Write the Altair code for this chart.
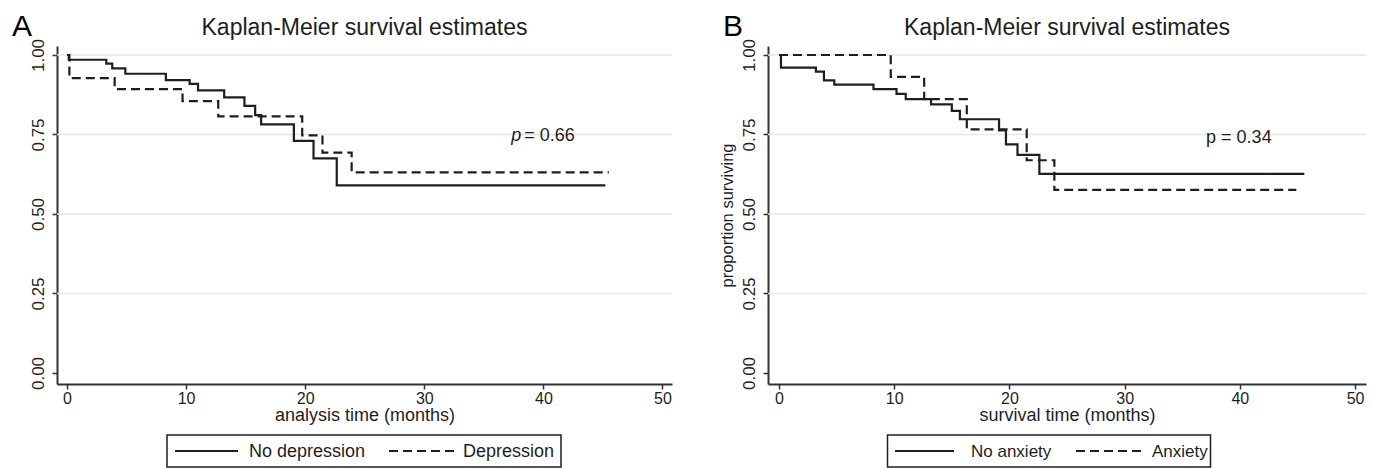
import altair as alt
import pandas as pd

FONT = "Liberation Sans"
INK = "#1e1e1e"

# ---------------- Panel A: depression ----------------
a_nodep_t = [0, 0.15, 3.3, 3.8, 4.9, 8.3, 10.3, 11.0, 13.2, 14.9, 15.8, 16.3, 19.05, 20.7, 22.65, 45.2]
a_nodep_s = [1.0, 0.985, 0.973, 0.958, 0.941, 0.921, 0.909, 0.889, 0.867, 0.840, 0.811, 0.782, 0.730, 0.675, 0.590, 0.590]
a_dep_t = [0, 0.2, 4.0, 9.7, 12.7, 19.75, 21.45, 23.9, 45.5]
a_dep_s = [1.0, 0.927, 0.893, 0.855, 0.807, 0.747, 0.693, 0.631, 0.631]
a_groups = ["No depression", "Depression"]

# ---------------- Panel B: anxiety ----------------
b_noanx_t = [0, 0.17, 3.2, 3.9, 4.8, 8.2, 10.2, 11.0, 13.2, 15.0, 15.7, 19.1, 19.7, 20.7, 22.6, 45.6]
b_noanx_s = [1.0, 0.960, 0.948, 0.920, 0.907, 0.893, 0.878, 0.861, 0.845, 0.824, 0.798, 0.763, 0.719, 0.686, 0.626, 0.626]
b_anx_t = [0, 9.7, 12.6, 16.3, 21.5, 23.9, 44.9]
b_anx_s = [1.0, 0.931, 0.861, 0.766, 0.669, 0.576, 0.576]
b_groups = ["No anxiety", "Anxiety"]

x_ticks = [0, 10, 20, 30, 40, 50]
y_ticks = [0.0, 0.25, 0.50, 0.75, 1.00]
grid_vals = [0.25, 0.50, 0.75, 1.00]

title_text = "Kaplan-Meier survival estimates"
DASH = [9, 5]


def curve_df(t1, s1, t2, s2, groups):
    rows = [{"t": t, "s": s, "group": groups[0]} for t, s in zip(t1, s1)]
    rows += [{"t": t, "s": s, "group": groups[1]} for t, s in zip(t2, s2)]
    return pd.DataFrame(rows)


def one(txt):
    return pd.DataFrame({"txt": [txt]})


def panel(df, groups, letter, xtitle, ytitle, xdom, width, height,
          ann_pieces, leg):
    yscale = alt.Scale(domain=[-0.0346, 1.0283], nice=False, zero=False)
    xscale = alt.Scale(domain=xdom, nice=False, zero=False)

    yaxis = alt.Axis(
        values=y_ticks, format=".2f", labelAngle=270, labelAlign="center",
        labelBaseline="bottom", labelPadding=5, tickSize=5, grid=False,
        labelFontSize=17, titleFontSize=16.5, titlePadding=5,
        title=ytitle if ytitle else "",
    )
    xaxis = alt.Axis(
        values=x_ticks, title=xtitle, grid=False, tickSize=5,
        labelFontSize=16, titleFontSize=18, labelPadding=1,
        titlePadding=0, labelFlush=False)

    grid = alt.Chart(pd.DataFrame({"g": grid_vals})).mark_rule(
        color="#e6e6e6", strokeWidth=1.5
    ).encode(y=alt.Y("g:Q", scale=yscale, axis=yaxis))

    lines = alt.Chart(df).mark_line(
        interpolate="step-after", color=INK, strokeWidth=2.2
    ).encode(
        x=alt.X("t:Q", scale=xscale, axis=xaxis),
        y=alt.Y("s:Q", scale=yscale, axis=yaxis),
        strokeDash=alt.StrokeDash(
            "group:N",
            scale=alt.Scale(domain=groups, range=[[1, 0], DASH]),
            legend=None,
        ),
        order=alt.Order("t:Q"),
    )

    letter_mark = alt.Chart(one(letter)).mark_text(
        align="left", baseline="alphabetic", fontSize=30, font=FONT, color="#000"
    ).encode(text="txt:N", x=alt.value(-45), y=alt.value(-10))

    title_mark = alt.Chart(one(title_text)).mark_text(
        align="center", baseline="alphabetic", fontSize=23, font=FONT, color=INK
    ).encode(text="txt:N", x=alt.value(width / 2), y=alt.value(-11))

    layers = [grid, lines, letter_mark, title_mark]
    for piece in ann_pieces:
        layers.append(
            alt.Chart(pd.DataFrame({"txt": [piece["text"]], "ax": [piece["x"]], "ay": [piece["y"]]}))
            .mark_text(align="left", baseline="alphabetic", fontSize=18, font=FONT,
                       color=INK, fontStyle=piece.get("style", "normal"), dx=piece.get("dx", 0))
            .encode(text="txt:N", x=alt.X("ax:Q", scale=xscale, axis=xaxis),
                    y=alt.Y("ay:Q", scale=yscale, axis=yaxis))
        )

    # legend box (drawn below the plot, like the Stata legend)
    yc = leg["yc"]
    layers.append(
        alt.Chart(one("box")).mark_rect(fillOpacity=0, stroke=INK, strokeWidth=1.5)
        .encode(x=alt.value(leg["box"][0]), x2=alt.value(leg["box"][1]),
                y=alt.value(yc - 16), y2=alt.value(yc + 16))
    )
    layers.append(
        alt.Chart(one(groups[0])).mark_rule(color=INK, strokeWidth=2)
        .encode(x=alt.value(leg["s1"][0]), x2=alt.value(leg["s1"][1]), y=alt.value(yc))
    )
    layers.append(
        alt.Chart(one(groups[1])).mark_rule(color=INK, strokeWidth=2, strokeDash=DASH)
        .encode(x=alt.value(leg["s2"][0]), x2=alt.value(leg["s2"][1]), y=alt.value(yc))
    )
    for g, lx in zip(groups, leg["lab"]):
        layers.append(
            alt.Chart(one(g)).mark_text(align="left", baseline="middle",
                                        fontSize=leg["fs"], font=FONT, color=INK)
            .encode(text="txt:N", x=alt.value(lx), y=alt.value(yc + 1))
        )
    return alt.layer(*layers).properties(width=width, height=height)


dfA = curve_df(a_nodep_t, a_nodep_s, a_dep_t, a_dep_s, a_groups)
dfB = curve_df(b_noanx_t, b_noanx_s, b_anx_t, b_anx_s, b_groups)

panelA = panel(
    dfA, a_groups, "A", "analysis time (months)", None, [-0.84, 50.8], 615, 338,
    [{"text": "p", "x": 37.3, "y": 0.73, "style": "italic"},
     {"text": "= 0.66", "x": 37.3, "y": 0.73, "dx": 13}],
    {"yc": 405, "box": [110, 504], "s1": [118, 181], "s2": [332, 399],
     "lab": [192, 406], "fs": 18},
)
panelB = panel(
    dfB, b_groups, "B", "survival time (months)", "proportion surviving",
    [-0.955, 50.95], 598, 338,
    [{"text": "p = 0.34", "x": 37.07, "y": 0.724}],
    {"yc": 405, "box": [119.5, 442.5], "s1": [127, 186], "s2": [308, 373],
     "lab": [203, 384], "fs": 17},
)

chart = alt.hconcat(panelA, panelB, spacing=96, bounds="flush").resolve_scale(
    strokeDash="independent", x="independent", y="independent"
).configure(
    padding={"left": 4, "top": 4, "right": 0, "bottom": 0},
    font=FONT,
).configure_view(stroke=None).configure_axis(
    domainColor="#333", domainWidth=2, tickColor="#333", tickWidth=1.5,
    labelColor=INK, titleColor=INK, labelFont=FONT, titleFont=FONT,
    titleFontWeight="normal",
)

chart.save("out.html", embed_options={"renderer": "svg", "actions": False})
